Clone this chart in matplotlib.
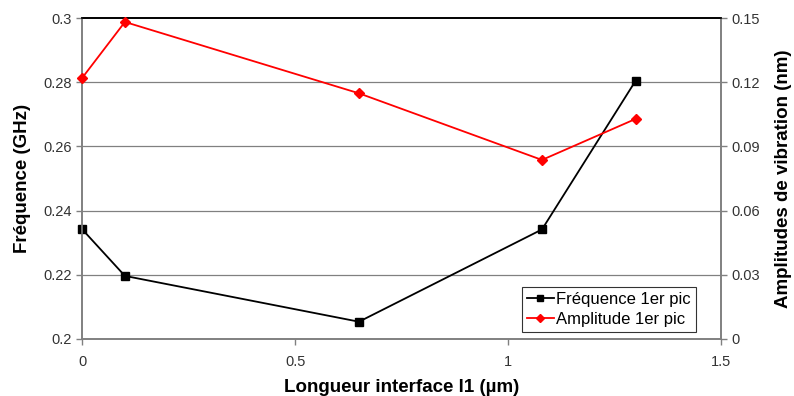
import matplotlib
matplotlib.use("Agg")
import matplotlib.pyplot as plt

plt.rcParams['font.family'] = ['Liberation Sans', 'DejaVu Sans']

x = [0.0, 0.1, 0.65, 1.08, 1.3]
freq = [0.2341, 0.2196, 0.2053, 0.2341, 0.2805]
ampl = [0.1222, 0.1483, 0.1149, 0.0837, 0.1029]

left_ticks = [0.2, 0.22, 0.24, 0.26, 0.28, 0.3]
left_labels = ["0.2", "0.22", "0.24", "0.26", "0.28", "0.3"]
right_ticks = [0, 0.03, 0.06, 0.09, 0.12, 0.15]
right_labels = ["0", "0.03", "0.06", "0.09", "0.12", "0.15"]
x_ticks = [0, 0.5, 1, 1.5]
x_labels = ["0", "0.5", "1", "1.5"]

fig = plt.figure(figsize=(7.94, 3.96), dpi=100)
ax = fig.add_axes([0.1037, 0.1447, 0.804, 0.809])
ax2 = ax.twinx()

ax.set_xlim(0, 1.5)
ax.set_ylim(0.2, 0.3)
ax2.set_ylim(0, 0.15)

for y in left_ticks[1:-1]:
    ax.axhline(y, color='#808080', lw=0.9, zorder=0)

l1, = ax.plot(x, freq, color='black', lw=1.3, marker='s', ms=5.5,
              label='Fréquence 1er pic', zorder=3, clip_on=False)
l2, = ax2.plot(x, ampl, color='#ff0000', lw=1.3, marker='D', ms=5.5,
               label='Amplitude 1er pic', zorder=3, clip_on=False)

ax.set_xticks(x_ticks)
ax.set_xticklabels(x_labels)
ax.set_yticks(left_ticks)
ax.set_yticklabels(left_labels)
ax2.set_yticks(right_ticks)
ax2.set_yticklabels(right_labels)

for a in (ax, ax2):
    a.tick_params(axis='both', labelsize=10.5, colors='#808080', labelcolor='#333333',
                  length=4, width=1, direction='out')
    for s in ['left', 'right', 'bottom']:
        a.spines[s].set_color('#808080')
        a.spines[s].set_linewidth(1.2)
    a.spines['top'].set_color('black')
    a.spines['top'].set_linewidth(1.2)
ax.tick_params(axis='x', pad=8)

ax.set_xlabel('Longueur interface l1 (µm)', fontsize=13.5, fontweight='bold', labelpad=7)
ax.set_ylabel('Fréquence (GHz)', fontsize=13.5, fontweight='bold', labelpad=9)
ax2.set_ylabel('Amplitudes de vibration (nm)', fontsize=13.5, fontweight='bold', labelpad=11)

leg = ax2.legend(handles=[l1, l2], loc='lower right', bbox_to_anchor=(0.961, 0.022),
                 fontsize=12, frameon=True, fancybox=False, edgecolor='black',
                 handlelength=1.6, handletextpad=0.15, borderpad=0.3, labelspacing=0.3,
                 markerscale=0.75, borderaxespad=0)
leg.get_frame().set_linewidth(0.8)

fig.savefig('out.png', dpi=100)
